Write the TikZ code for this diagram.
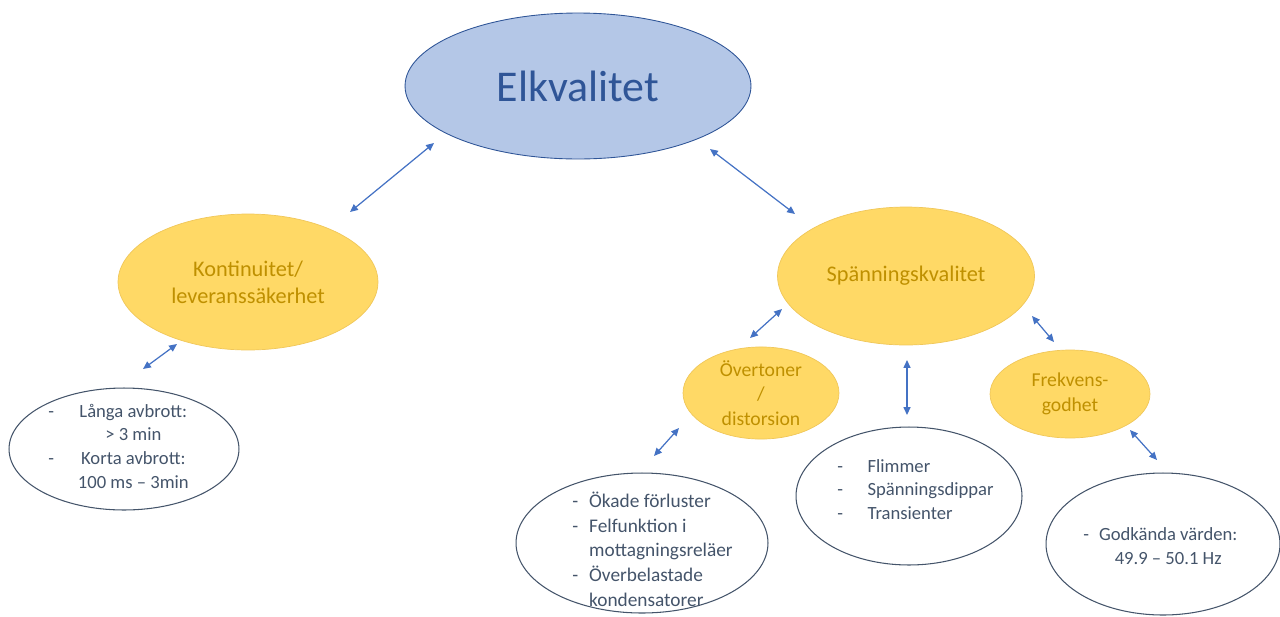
\documentclass[tikz,border=0pt]{standalone}
\usepackage{fontspec}
\setmainfont{Carlito}
\usetikzlibrary{shapes.geometric,arrows.meta}
\definecolor{elkblue}{HTML}{B4C7E7}
\definecolor{elkdark}{HTML}{2F5597}
\definecolor{goldfill}{HTML}{FFD966}
\definecolor{goldline}{HTML}{F0C75A}
\definecolor{goldtext}{HTML}{BF9000}
\definecolor{slate}{HTML}{44546A}
\definecolor{arrowblue}{HTML}{4472C4}
\tikzset{
  main/.style={ellipse,fill=elkblue,draw=elkdark,line width=.5pt,inner sep=0pt,text=elkdark,font=\fontsize{25}{30}\selectfont},
  topic/.style={ellipse,fill=goldfill,draw=goldline,line width=.4pt,inner sep=0pt,text=goldtext,align=center,font=\fontsize{12.7}{15.3}\selectfont},
  subtopic/.style={topic,font=\fontsize{11.2}{14}\selectfont},
  detail/.style={ellipse,draw=slate,line width=.6pt,inner sep=0pt},
  detailtext/.style={anchor=west,inner sep=0pt,text=slate,font=\fontsize{10.6}{13.5}\selectfont},
  link/.style={arrowblue,line width=.7pt,{Triangle[length=4.5pt,width=4pt]}-{Triangle[length=4.5pt,width=4pt]}}
}
\begin{document}
\begin{tikzpicture}[x=.02cm,y=-.02cm]
	\useasboundingbox (0,0) rectangle (1280,616);
	\node[main,minimum width=6.92cm,minimum height=2.92cm] (elk) at (578,86) {Elkvalitet};

	\node[topic,minimum width=5.2cm,minimum height=2.72cm] (kont) at (248,282) {Kontinuitet/\\leveranssäkerhet};
	\node[topic,minimum width=5.14cm,minimum height=2.76cm] (spann) at (906,276) {Spänningskvalitet};
	\node[subtopic,minimum width=3.12cm,minimum height=1.6cm] (over) at (761,393) {Övertoner\\/\\distorsion};
	\node[subtopic,minimum width=3.2cm,minimum height=1.76cm] (frek) at (1070,394) {Frekvens-\\godhet};

	\node[detail,minimum width=4.6cm,minimum height=2.44cm] (lang) at (124,449) {};
	\node[detailtext] (langTxt) at (48,448) {\begin{tabular}{@{}l@{\hspace{13.6pt}}c@{}}-&Långa avbrott:\\&> 3 min\\-&Korta avbrott:\\&100 ms – 3min\end{tabular}};
	\node[detail,minimum width=5.04cm,minimum height=2.8cm] (okade) at (642,543) {};
	\node[detailtext,font=\fontsize{11}{14}\selectfont] (okadeTxt) at (572,552) {\begin{tabular}{@{}l@{\hspace{6.2pt}}l@{}}-&Ökade förluster\\-&Felfunktion i\\&mottagningsreläer\\-&Överbelastade\\&kondensatorer\end{tabular}};
	\node[detail,minimum width=4.52cm,minimum height=2.76cm] (flim) at (909,496) {};
	\node[detailtext] (flimTxt) at (837,491) {\begin{tabular}{@{}l@{\hspace{14pt}}l@{}}-&Flimmer\\-&Spänningsdippar\\-&Transienter\end{tabular}};
	\node[detail,minimum width=4.68cm,minimum height=2.84cm] (godk) at (1163,544) {};
	\node[detailtext] (godkTxt) at (1083,548) {\begin{tabular}{@{}l@{\hspace{5.7pt}}c@{}}-&Godkända värden:\\&49.9 – 50.1 Hz\end{tabular}};

	\coordinate (kontUp) at (350,212); \coordinate (elkLeft) at (434,143); \draw[link] (kontUp) -- (elkLeft);
	\coordinate (elkRight) at (710,149); \coordinate (spannUp) at (795,214); \draw[link] (elkRight) -- (spannUp);
	\coordinate (langUp) at (143,369); \coordinate (kontDown) at (177,344); \draw[link] (langUp) -- (kontDown);
	\coordinate (overUp) at (750,338); \coordinate (spannLeft) at (782,309); \draw[link] (overUp) -- (spannLeft);
	\coordinate (spannDown) at (907,360); \coordinate (flimUp) at (907,415); \draw[link] (spannDown) -- (flimUp);
	\coordinate (spannRight) at (1032,316); \coordinate (frekUp) at (1054,342); \draw[link] (spannRight) -- (frekUp);
	\coordinate (okadeUp) at (654,456); \coordinate (overDown) at (679,428); \draw[link] (okadeUp) -- (overDown);
	\coordinate (frekDown) at (1130,430); \coordinate (godkUp) at (1157,460); \draw[link] (frekDown) -- (godkUp);
\end{tikzpicture}
\end{document}
